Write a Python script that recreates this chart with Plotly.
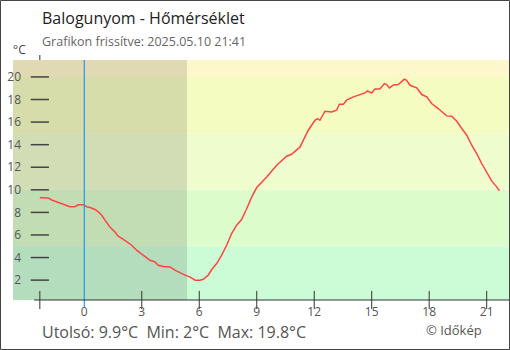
import plotly.graph_objects as go

# Temperature readings over the last 24 hours (hours relative to midnight, °C)
hours = [-2.32, -1.88, -1.70, -1.44, -1.10, -0.75, -0.49, -0.31, -0.05, 0.13,
         0.30, 0.56, 0.73, 0.91, 1.08, 1.34, 1.60, 1.77, 2.04, 2.21,
         2.47, 2.73, 3.08, 3.43, 3.69, 3.86, 4.12, 4.47, 4.73, 4.99,
         5.25, 5.51, 5.78, 6.04, 6.21, 6.47, 6.65, 6.91, 7.17, 7.43,
         7.69, 7.95, 8.21, 8.48, 8.74, 9.00, 9.52, 10.04, 10.56, 10.82,
         11.26, 11.69, 12.04, 12.16, 12.30, 12.56, 12.91, 13.17, 13.31, 13.52,
         13.69, 14.04, 14.39, 14.65, 14.77, 15.00, 15.17, 15.43, 15.66, 15.78,
         15.92, 16.13, 16.39, 16.70, 16.82, 17.00, 17.35, 17.61, 17.87, 18.13,
         18.47, 18.74, 18.91, 19.17, 19.43, 19.70, 19.96, 20.22, 20.48, 20.74,
         21.00, 21.26, 21.52, 21.66]
temps = [9.3, 9.28, 9.1, 8.93, 8.72, 8.5, 8.5, 8.67, 8.67, 8.5,
         8.43, 8.26, 8.05, 7.75, 7.31, 6.71, 6.27, 5.89, 5.6, 5.39,
         5.09, 4.65, 4.21, 3.76, 3.61, 3.32, 3.2, 3.17, 2.88, 2.64,
         2.44, 2.29, 2.0, 2.0, 2.08, 2.44, 2.94, 3.47, 4.21, 5.09,
         6.13, 6.87, 7.37, 8.34, 9.37, 10.2, 11.14, 12.18, 12.98, 13.15,
         13.8, 15.28, 16.16, 16.3, 16.16, 16.96, 16.9, 17.05, 17.58, 17.58,
         17.94, 18.23, 18.47, 18.58, 18.76, 18.58, 18.94, 18.94, 19.41, 19.32,
         19.03, 19.29, 19.32, 19.8, 19.7, 19.26, 19.03, 18.44, 18.23, 17.64,
         17.2, 16.85, 16.55, 16.52, 16.1, 15.43, 14.84, 13.95, 13.21, 12.33,
         11.58, 10.79, 10.26, 9.9]

x_ticks = [0, 3, 6, 9, 12, 15, 18, 21]
y_ticks = [2, 4, 6, 8, 10, 12, 14, 16, 18, 20]

# Temperature zones (lower bound, upper bound, fill)
band_lo = [0, 5, 10, 15, 20]
band_hi = [5, 10, 15, 20, 30]
band_col = ["#ccfcd6", "#ddfccc", "#effcce", "#f5fcc2", "#fff7cc"]

start_h = hours[0]
sunrise_h = 5.36
x_range = [-3.72, 22.165]
y_range = [0.24, 21.5]

W, H = 510, 350
ML, MR, MT, MB = 13, 1, 60, 50
PW, PH = W - ML - MR, H - MT - MB


def px_x(px):
    return (px - ML) / PW


def px_y(py):
    return (H - MB - py) / PH


FONT = "Open Sans"
shapes = []

# Zone bands
for lo, hi, col in zip(band_lo, band_hi, band_col):
    shapes.append(dict(type="rect", xref="paper", x0=0, x1=1, yref="y",
                       y0=max(lo, y_range[0] - 1), y1=min(hi, y_range[1] + 1),
                       fillcolor=col, line_width=0, layer="below"))

# Night shading up to sunrise
shapes.append(dict(type="rect", xref="x", x0=x_range[0] - 1, x1=sunrise_h,
                   yref="paper", y0=0, y1=1, fillcolor="rgba(0,0,0,0.12)",
                   line_width=0, layer="below"))

# Midnight marker
shapes.append(dict(type="line", xref="x", x0=0, x1=0, yref="paper",
                   y0=px_y(307), y1=1, line=dict(color="#2196f3", width=1.2)))

# Axis lines
shapes.append(dict(type="line", xref="paper", x0=px_x(34), x1=1, yref="paper",
                   y0=0, y1=0, line=dict(color="#333333", width=1)))
shapes.append(dict(type="line", xref="x", x0=start_h, x1=start_h, yref="paper",
                   y0=1, y1=px_y(55), line=dict(color="#333333", width=1)))

# Outer frame
shapes.append(dict(type="rect", xref="paper", yref="paper",
                   x0=px_x(0.5), x1=px_x(509.5), y0=px_y(349.5), y1=px_y(0.5),
                   line=dict(color="#444444", width=1), fillcolor="rgba(0,0,0,0)"))

fig = go.Figure()

fig.add_trace(go.Scatter(x=hours, y=temps, mode="lines",
                         line=dict(color="#ff4444", width=1.5),
                         hoverinfo="skip", showlegend=False))

# Tick dashes crossing the axes
fig.add_trace(go.Scatter(x=[start_h] * len(y_ticks), y=y_ticks, mode="markers",
                         marker=dict(symbol="line-ew", size=13,
                                     line=dict(color="#444444", width=1.5)),
                         cliponaxis=False, hoverinfo="skip", showlegend=False))
fig.add_trace(go.Scatter(x=[start_h] + x_ticks[1:], y=[y_range[0]] * len(x_ticks),
                         mode="markers",
                         marker=dict(symbol="line-ns", size=13,
                                     line=dict(color="#333333", width=1)),
                         cliponaxis=False, hoverinfo="skip", showlegend=False))

annotations = [
    dict(text="Balogunyom - Hőmérséklet", x=px_x(40), y=px_y(18),
         font=dict(size=16, color="#222222", family=FONT)),
    dict(text="Grafikon frissítve: 2025.05.10 21:41", x=px_x(40), y=px_y(41),
         font=dict(size=12.5, color="#666666", family=FONT)),
    dict(text="°C", x=px_x(11), y=px_y(50),
         font=dict(size=12, color="#444444", family=FONT)),
    dict(text="Utolsó: 9.9°C&nbsp;&nbsp;Min: 2°C&nbsp;&nbsp;Max: 19.8°C",
         x=px_x(40), y=px_y(332),
         font=dict(size=16, color="#555555", family=FONT)),
    dict(text="© Időkép", x=px_x(424), y=px_y(330),
         font=dict(size=13, color="#555555", family=FONT)),
]
for a in annotations:
    a.update(xref="paper", yref="paper", xanchor="left", yanchor="middle",
             showarrow=False)

fig.update_layout(
    width=W, height=H,
    margin=dict(l=ML, r=MR, t=MT, b=MB),
    paper_bgcolor="white", plot_bgcolor="white",
    font=dict(family=FONT, color="#555555", size=12),
    shapes=shapes, annotations=annotations,
    xaxis=dict(range=x_range, tickvals=x_ticks, ticks="", showgrid=False,
               zeroline=False, showline=False, fixedrange=True,
               tickfont=dict(size=12, color="#555555"), ticklabelstandoff=3),
    yaxis=dict(range=y_range, tickvals=y_ticks, ticks="", showgrid=False,
               zeroline=False, showline=False, fixedrange=True,
               anchor="free", position=0.0,
               ticklabelstandoff=-8,
               tickfont=dict(size=12, color="#555555")),
)

fig.write_html("out.html")
